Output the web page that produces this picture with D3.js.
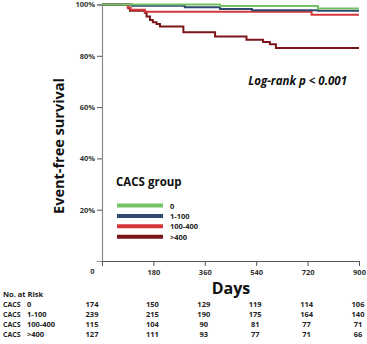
<!DOCTYPE html>
<html>
<head>
<meta charset="utf-8">
<script src="https://cdn.jsdelivr.net/npm/d3@7"></script>
<style>
body { margin:0; background:#fff; }
text { font-family:"Open Sans", "DejaVu Sans", sans-serif; }
</style>
</head>
<body>
<div id="km"></div>
<script>
var groups = ["0", "1-100", "100-400", ">400"];
var colors = ["#74c163", "#2e4a6c", "#d5373c", "#7a1618"];

// step points [day, survival %]
var curve0 = [[0,100],[413,99.4],[756,98.4],[900,98.4]];
var curve1 = [[0,100],[105,99.5],[290,98.9],[413,98.2],[525,97.8],[756,97.6],[900,97.6]];
var curve2 = [[0,100],[90,98.8],[100,98.0],[150,97.2],[734,96.0],[900,96.0]];
var curve3 = [[0,100],[92,98.5],[98,97.6],[150,96.8],[156,95.3],[168,94.0],[178,93.1],[191,92.4],[203,91.4],
  [285,89.2],[396,87.5],[506,86.3],[564,85.4],[588,84.5],[609,83.0],[900,83.0]];
var curves = [curve0, curve1, curve2, curve3];

var dayTicks = [0, 180, 360, 540, 720, 900];
var pctTicks = [20, 40, 60, 80, 100];
var atRisk = [
  [174, 150, 129, 119, 114, 106],
  [239, 215, 190, 175, 164, 140],
  [115, 104, 90, 81, 77, 71],
  [127, 111, 93, 77, 71, 66]
];

var width = 367, height = 344;
var svg = d3.select("#km").append("svg")
  .attr("width", width)
  .attr("height", height);

var x = d3.scaleLinear().domain([0, 900]).range([102, 359]);
var y = d3.scaleLinear().domain([0, 100]).range([261, 4.5]);

// axes
var yAxis = svg.append("g")
  .attr("transform", "translate(102,0)")
  .call(d3.axisLeft(y).tickValues(pctTicks).tickSize(5).tickFormat(function(d){ return d + "%"; }));
yAxis.select(".domain").attr("stroke", "#8a8a8a").attr("stroke-width", 1.2);
yAxis.selectAll(".tick line").attr("stroke", "#555");
yAxis.selectAll(".tick text")
  .attr("x", -7)
  .style("font-size", "7.5px").style("font-weight", "bold").attr("fill", "#333");

var xAxis = svg.append("g")
  .attr("transform", "translate(0,261)")
  .call(d3.axisBottom(x).tickValues(dayTicks).tickSize(5).tickSizeOuter(0));
xAxis.select(".domain").attr("stroke", "#555").attr("stroke-width", 1.2);
xAxis.selectAll(".tick line").attr("stroke", "#555");
xAxis.selectAll(".tick text")
  .attr("y", 9)
  .attr("dx", function(d){ return d === 0 ? -10 : 0; })
  .attr("dy", function(d){ return d === 0 ? "0.5em" : "0.71em"; })
  .style("font-size", "7.5px").style("font-weight", "bold").attr("fill", "#333");

// curves
var line = d3.line()
  .x(function(d){ return x(d[0]); })
  .y(function(d){ return y(d[1]); })
  .curve(d3.curveStepAfter);

var order = [3, 2, 1, 0];
order.forEach(function(i) {
  svg.append("path")
    .datum(curves[i])
    .attr("d", line)
    .attr("fill", "none")
    .attr("stroke", colors[i])
    .attr("stroke-width", 2);
});

// axis titles
svg.append("text")
  .attr("transform", "translate(64,146) rotate(-90)")
  .attr("text-anchor", "middle")
  .style("font-size", "14.5px").style("font-weight", "bold")
  .attr("fill", "#111")
  .text("Event-free survival");

svg.append("text")
  .attr("x", 231).attr("y", 294)
  .attr("text-anchor", "middle")
  .style("font-size", "16px").style("font-weight", "bold")
  .attr("fill", "#111")
  .text("Days");

svg.append("text")
  .attr("x", 347).attr("y", 85)
  .attr("text-anchor", "end")
  .style("font-size", "11.5px").style("font-weight", "bold").style("font-style", "italic")
  .attr("fill", "#111")
  .text("Log-rank p < 0.001");

// legend
var legend = svg.append("g");
legend.append("text")
  .attr("x", 116).attr("y", 186)
  .style("font-size", "11.5px").style("font-weight", "bold")
  .attr("fill", "#111")
  .text("CACS group");

var legY = d3.scalePoint().domain(groups).range([205.5, 236.7]);
groups.forEach(function(g, i) {
  legend.append("line")
    .attr("x1", 117).attr("x2", 163)
    .attr("y1", legY(g)).attr("y2", legY(g))
    .attr("stroke", colors[i])
    .attr("stroke-width", 4);
  legend.append("text")
    .attr("x", 170).attr("y", legY(g) + 3)
    .style("font-size", "7.5px").style("font-weight", "bold")
    .attr("fill", "#222")
    .text(g);
});

// number at risk
var risk = svg.append("g");
risk.append("text")
  .attr("x", 3).attr("y", 297)
  .style("font-size", "7.5px").style("font-weight", "bold")
  .attr("fill", "#222")
  .text("No. at Risk");

var rowY = d3.scalePoint().domain(groups).range([304, 334]);
groups.forEach(function(g, i) {
  var ry = rowY(g) + 3;
  risk.append("text")
    .attr("x", 3).attr("y", ry)
    .style("font-size", "7px").style("font-weight", "bold")
    .attr("fill", "#222")
    .text("CACS");
  risk.append("text")
    .attr("x", 27).attr("y", ry)
    .style("font-size", "7.5px").style("font-weight", "bold")
    .attr("fill", "#222")
    .text(g);
  atRisk[i].forEach(function(v, j) {
    risk.append("text")
      .attr("x", x(dayTicks[j]) + (dayTicks[j] === 0 ? -10 : -1))
      .attr("y", ry)
      .attr("text-anchor", "middle")
      .style("font-size", "7.5px").style("font-weight", "bold")
      .attr("fill", "#222")
      .text(v);
  });
});
</script>
</body>
</html>
